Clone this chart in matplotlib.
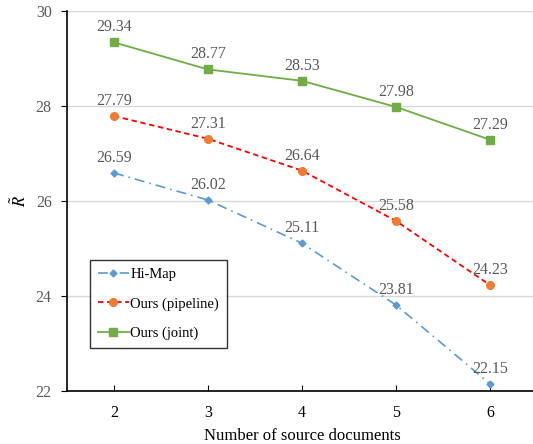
import matplotlib.pyplot as plt

plt.rcParams["font.family"] = ["Liberation Serif", "DejaVu Serif"]
plt.rcParams["mathtext.fontset"] = "stix"

# Data.
num_docs = [2, 3, 4, 5, 6]
hi_map = [26.59, 26.02, 25.11, 23.81, 22.15]
ours_pipeline = [27.79, 27.31, 26.64, 25.58, 24.23]
ours_joint = [29.34, 28.77, 28.53, 27.98, 27.29]

label_grey = "#595959"

fig = plt.figure(figsize=(5.33, 4.44), dpi=100)
axes = fig.add_axes([0.1257, 0.1194, 0.8818, 0.8558])

axes.plot(num_docs, hi_map, color="#5B9BD5", linestyle=(0, (6, 3, 1, 3)), linewidth=1.2,
          marker="D", markersize=3.5, label="Hi-Map")
axes.plot(num_docs, ours_pipeline, color="#FF0000", linestyle=(0, (3, 2)), linewidth=1.3,
          marker="o", markersize=5.5, markerfacecolor="#ED7D31", markeredgecolor="#ED7D31",
          label="Ours (pipeline)")
axes.plot(num_docs, ours_joint, color="#70AD47", linestyle="-", linewidth=1.3,
          marker="s", markersize=5.5, label="Ours (joint)")

# Data labels above each point.
for series in (hi_map, ours_pipeline, ours_joint):
    for x, y in zip(num_docs, series):
        axes.annotate(f"{y:.2f}", (x, y), xytext=(0, 5), textcoords="offset points",
                      ha="center", va="bottom", fontsize=11.5, color=label_grey)

axes.set_xlim(1.5, 6.5)
axes.set_ylim(22, 30)
axes.set_xticks(num_docs)
axes.set_yticks(range(22, 31, 2))
axes.grid(axis="y", color="#D9D9D9", linewidth=1)
axes.set_axisbelow(True)

for side in ("top", "right"):
    axes.spines[side].set_visible(False)
for side in ("left", "bottom"):
    axes.spines[side].set_color("black")
    axes.spines[side].set_linewidth(1.2)

axes.tick_params(axis="y", direction="out", length=4, labelsize=11.5, labelcolor=label_grey, pad=7)
axes.tick_params(axis="x", direction="in", length=4, labelsize=11.5, labelcolor="black", pad=10)

axes.set_xlabel("Number of source documents", fontsize=12, labelpad=5)
axes.set_ylabel(r"$\tilde{R}$", fontsize=12, labelpad=4)

legend = axes.legend(loc="lower left", bbox_to_anchor=(0.049, 0.113), fontsize=10.5,
                     frameon=True, fancybox=False, edgecolor="black", handlelength=2.1,
                     handletextpad=0.1, labelspacing=1.1, borderpad=0.55, borderaxespad=0)
legend.get_frame().set_linewidth(1.0)

fig.savefig("out.png", dpi=100)
